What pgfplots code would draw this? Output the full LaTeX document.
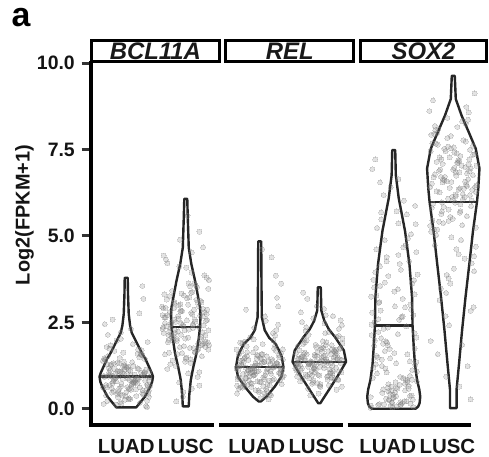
\documentclass[border=0pt]{standalone}
\usepackage{fontspec}
\setmainfont{Liberation Sans}
\usepackage{pgfplots}
\pgfplotsset{compat=1.18}
\definecolor{ptcol}{HTML}{808080}
\definecolor{vcol}{HTML}{262626}
\definecolor{tickcol}{HTML}{333333}
\pgfplotsset{
 panel/.style={
  scale only axis, width=131bp, height=363bp,
  xmin=0.4, xmax=2.6, ymin=-0.47, ymax=10.03,
  axis line style={draw=none},
  xtick style={draw=none},
  tick pos=left,
  tick label style={font=\bfseries\fontsize{20.5}{22}\selectfont, text=black!92},
  xticklabel style={anchor=north, inner sep=0pt, yshift=-14bp},
 },
 pts/.style={only marks, mark=*, mark size=2.5bp, color=ptcol, mark options={ptcol, line width=0pt, opacity=0.22}},
 vio/.style={draw=vcol, line width=2.4bp, line join=round, fill=none, mark=none},
}
\begin{document}
\begin{tikzpicture}
% ---------------- Panel 1: BCL11A ----------------
\begin{axis}[panel, at={(90.5bp,32bp)}, anchor=south west,
  xtick={1,2}, xticklabels={LUAD,LUSC},
  xticklabel style={yshift=9bp},
  ytick={0,2.5,5,7.5,10}, yticklabels={0.0,2.5,5.0,7.5,10.0},
  ytick style={draw=tickcol, line width=3bp}, major tick length=9bp, tick align=outside,
  yticklabel style={anchor=east, inner sep=0pt, xshift=-6.5bp, font=\bfseries\fontsize{19.5}{21}\selectfont}]
\addplot[pts] coordinates {
(0.63,0.92)(1.27,0.45)(0.88,1.31)(1.11,0.78)(0.71,1.05)(1.35,0.23)(0.95,1.62)(1.02,0.88)(0.79,0.51)(1.19,1.17)
(0.66,0.69)(1.31,1.44)(0.92,0.15)(1.08,0.97)(0.74,1.83)(1.23,0.62)(0.85,1.09)(1.38,0.34)(0.97,1.26)(1.15,0.81)
(0.69,2.14)(1.04,0.57)(0.82,1.02)(1.29,0.41)(0.61,1.38)(1.12,0.73)(0.90,0.19)(1.25,1.56)(0.77,0.95)(1.36,0.66)
(0.99,1.21)(1.07,0.28)(0.72,1.74)(1.20,0.86)(0.87,0.49)(1.33,1.13)(0.64,2.45)(1.16,0.77)(0.94,0.38)(1.01,1.01)
(0.76,0.59)(1.22,1.49)(0.83,0.12)(1.39,0.91)(0.68,1.28)(1.10,0.71)(0.91,2.02)(1.28,0.53)(0.80,1.16)(1.05,0.84)
(1.05,0.31)(0.80,1.67)(1.28,0.99)(0.91,0.64)(1.10,1.35)(0.68,0.22)(1.39,1.07)(0.83,0.79)(1.22,2.76)(0.76,0.47)
(1.01,1.19)(0.94,0.87)(1.16,0.56)(0.64,1.42)(1.33,0.08)(0.87,0.94)(1.20,1.71)(0.72,0.68)(1.07,1.11)(0.99,0.36)
(1.36,1.93)(0.77,0.74)(1.25,1.04)(0.90,0.43)(1.12,1.24)(0.61,0.61)(1.29,3.18)(0.82,0.89)(1.04,0.27)(0.69,1.52)
(1.15,0.82)(0.97,1.14)(1.38,0.52)(0.85,1.33)(1.23,0.17)(0.74,0.96)(1.08,2.31)(0.92,0.72)(1.31,1.06)(0.66,0.39)
(1.19,1.59)(0.79,0.83)(1.02,0.63)(0.95,1.22)(1.35,0.05)(0.71,0.98)(1.11,1.87)(0.88,0.58)(1.27,3.55)(0.63,1.46)
(1.18,0.87)(0.73,1.12)(1.34,0.54)(0.96,1.36)(1.09,0.71)(0.62,0.95)(1.24,1.58)(0.86,0.33)(1.30,1.04)(0.78,0.79)
(1.03,1.22)(0.67,0.62)(1.14,0.99)(0.89,1.47)(1.37,0.44)(0.81,0.88)(1.21,1.15)(0.98,0.26)(1.26,1.69)(0.70,0.93)
(1.06,0.58)(0.75,1.29)(1.32,0.81)(0.93,1.05)(1.17,0.37)(0.65,1.41)(1.13,0.76)(0.84,1.97)(1.40,0.66)(0.88,1.09)
(1.00,0.48)(0.71,1.18)(1.23,0.91)(0.91,2.21)(1.35,0.69)(0.79,1.32)(1.11,0.85)(0.62,0.14)(1.27,1.55)(0.96,1.01)
(1.19,0.73)(0.74,1.26)(1.08,0.55)(0.67,1.79)(1.31,0.97)(0.85,0.42)(1.04,1.13)(0.77,2.58)(1.38,0.82)(0.90,1.07)
};
\addplot[pts] coordinates {
(2.12,2.41)(1.90,1.78)(2.25,3.12)(1.77,2.05)(2.36,2.87)(1.99,1.36)(2.07,3.54)(1.72,2.23)(2.20,0.92)(1.87,2.68)
(2.33,1.95)(1.64,3.31)(2.16,2.52)(1.94,1.61)(2.01,4.08)(1.76,2.15)(2.22,2.96)(1.83,1.24)(2.39,3.72)(1.68,2.38)
(2.10,0.58)(1.91,2.81)(2.28,1.87)(1.80,3.05)(2.05,2.29)(1.63,4.43)(2.27,1.52)(1.88,2.61)(2.11,3.38)(1.71,1.99)
(2.35,2.74)(1.95,0.35)(2.02,3.19)(1.79,2.11)(2.19,1.69)(1.66,2.92)(2.31,3.86)(1.92,2.47)(2.08,1.43)(1.74,2.33)
(2.23,5.12)(1.85,2.02)(2.38,3.47)(1.97,1.81)(2.15,2.58)(1.69,1.15)(2.04,3.01)(1.82,2.19)(2.29,4.67)(1.61,2.71)
(2.37,1.91)(1.73,3.26)(2.12,2.44)(1.89,0.76)(2.29,2.89)(1.65,1.57)(2.05,3.63)(1.98,2.27)(2.21,1.73)(1.81,3.09)
(2.34,2.55)(1.69,4.21)(2.08,1.33)(1.92,2.84)(2.26,2.08)(1.77,3.41)(2.15,1.64)(1.62,2.36)(2.03,5.58)(1.85,1.96)
(2.31,2.79)(1.96,0.48)(2.18,3.15)(1.71,2.13)(2.39,1.84)(1.88,2.99)(2.10,3.94)(1.75,2.49)(2.23,1.06)(1.64,2.64)
(2.01,1.48)(1.93,3.33)(2.28,2.21)(1.80,2.91)(2.13,1.76)(1.67,4.31)(2.36,2.57)(1.84,0.21)(2.06,3.22)(1.99,2.03)
(2.24,2.69)(1.78,1.39)(2.17,3.57)(1.61,2.31)(2.32,1.89)(1.90,4.89)(2.09,2.77)(1.72,1.62)(2.20,3.08)(1.95,2.43)
(1.82,2.28)(2.27,1.83)(1.66,2.64)(2.04,2.06)(1.91,3.02)(2.38,1.71)(1.76,2.45)(2.14,2.87)(1.70,1.92)(2.22,2.36)
(1.97,3.28)(2.33,2.12)(1.86,1.58)(2.11,2.73)(1.63,2.19)(2.19,3.51)(1.79,1.97)(2.02,2.56)(1.74,1.29)(2.30,2.41)
(1.94,2.83)(2.25,2.02)(1.68,3.16)(2.07,1.76)(1.83,2.51)(2.35,3.79)(1.87,2.24)(2.16,1.64)(1.60,2.95)(2.12,2.33)
(2.00,1.45)(2.29,2.67)(1.77,2.09)(2.09,3.36)(1.65,2.48)(2.21,1.88)(1.89,4.12)(2.38,2.27)(1.73,2.79)(2.04,1.02)
(1.81,2.58)(2.26,3.08)(1.92,2.14)(2.33,1.79)(1.69,2.71)(2.15,3.62)(1.96,2.38)(2.23,0.67)(1.62,2.91)(2.10,4.52)
};
\addplot[vio] coordinates {
(1.168,0.04)(1.314,0.35)(1.403,0.64)(1.435,0.78)(1.449,0.93)(1.425,1.05)(1.370,1.26)(1.320,1.45)(1.266,1.60)(1.185,1.88)(1.150,2.00)(1.092,2.20)(1.065,2.40)(1.042,2.74)(1.030,3.30)(1.025,3.79)
(0.975,3.79)(0.970,3.30)(0.958,2.74)(0.935,2.40)(0.908,2.20)(0.850,2.00)(0.815,1.88)(0.734,1.60)(0.680,1.45)(0.630,1.26)(0.575,1.05)(0.551,0.93)(0.565,0.78)(0.597,0.64)(0.686,0.35)(0.832,0.04)
} -- cycle;
\addplot[vio] coordinates {(0.551,0.93)(1.449,0.93)};
\addplot[vio] coordinates {
(2.050,0.07)(2.059,0.40)(2.084,0.83)(2.126,1.20)(2.180,1.60)(2.215,2.00)(2.240,2.36)(2.247,2.70)(2.240,2.93)(2.200,3.30)(2.156,3.70)(2.092,4.20)(2.050,4.66)(2.034,5.50)(2.025,6.07)
(1.975,6.07)(1.966,5.50)(1.950,4.66)(1.908,4.20)(1.844,3.70)(1.800,3.30)(1.760,2.93)(1.753,2.70)(1.760,2.36)(1.785,2.00)(1.820,1.60)(1.874,1.20)(1.916,0.83)(1.941,0.40)(1.950,0.07)
} -- cycle;
\addplot[vio] coordinates {(1.760,2.36)(2.240,2.36)};
\end{axis}
% ---------------- Panel 2: REL ----------------
\begin{axis}[panel, at={(224bp,32bp)}, anchor=south west,
  xtick={0.95,1.95}, xticklabels={LUAD,LUSC}, ytick=\empty]
\addplot[pts] coordinates {
(1.37,1.18)(0.73,0.74)(1.12,1.52)(0.89,0.96)(1.29,1.33)(0.65,0.58)(1.05,1.87)(0.98,1.09)(1.21,0.83)(0.81,1.41)
(1.34,1.02)(0.69,1.66)(1.08,0.45)(0.92,1.25)(1.26,2.12)(0.77,0.89)(1.15,1.37)(0.62,0.67)(1.03,1.58)(0.85,1.14)
(1.31,2.43)(0.96,0.79)(1.18,1.29)(0.71,0.61)(1.39,1.72)(0.88,1.05)(1.10,0.36)(0.75,1.94)(1.23,1.21)(0.64,0.92)
(1.01,1.47)(0.93,0.54)(1.28,2.28)(0.80,1.11)(1.13,0.71)(0.67,1.39)(1.36,3.62)(0.84,1.03)(1.06,0.65)(0.99,1.26)
(1.24,0.86)(0.78,1.81)(1.17,0.42)(0.61,1.16)(1.32,1.55)(0.90,0.97)(1.09,2.67)(0.72,0.77)(1.20,1.44)(0.95,1.08)
(1.12,0.52)(0.90,2.01)(1.25,1.23)(0.77,0.88)(1.36,1.61)(0.99,0.48)(1.07,1.35)(0.72,1.01)(1.20,4.38)(0.87,0.73)
(1.33,1.49)(0.64,1.12)(1.16,0.81)(0.94,1.76)(1.01,0.31)(0.76,1.19)(1.22,2.19)(0.83,0.94)(1.39,1.42)(0.68,0.63)
(1.10,2.54)(0.91,1.06)(1.28,1.31)(0.80,0.69)(1.05,1.57)(0.63,0.85)(1.27,3.85)(0.88,1.17)(1.11,0.57)(0.71,1.89)
(1.35,1.13)(0.95,1.45)(1.02,0.78)(0.79,1.64)(1.19,0.39)(0.66,1.24)(1.31,2.96)(0.92,0.99)(1.08,1.36)(0.74,0.66)
(1.23,1.98)(0.85,1.15)(1.38,0.91)(0.97,1.53)(1.15,0.27)(0.69,1.28)(1.04,4.61)(0.82,0.82)(1.29,3.21)(0.61,1.71)
(1.18,1.08)(0.73,1.35)(1.34,0.82)(0.96,1.56)(1.09,0.97)(0.62,1.21)(1.24,1.74)(0.86,0.63)(1.30,1.29)(0.78,1.02)
(1.03,1.43)(0.67,0.88)(1.14,1.17)(0.89,1.63)(1.37,0.71)(0.81,1.11)(1.21,1.38)(0.98,0.53)(1.26,1.84)(0.70,1.25)
(1.06,0.91)(0.75,1.49)(1.32,1.04)(0.93,1.31)(1.17,0.68)(0.65,1.58)(1.13,1.14)(0.84,2.07)(1.40,0.95)(0.88,1.22)
(1.00,0.77)(0.71,1.41)(1.23,1.19)(0.91,2.34)(1.35,0.99)(0.79,1.52)(1.11,1.06)(0.62,0.44)(1.27,1.68)(0.96,1.27)
(1.19,1.01)(0.74,1.46)(1.08,0.85)(0.67,1.91)(1.31,1.23)(0.85,0.74)(1.04,1.33)(0.77,2.87)(1.38,1.12)(0.90,1.16)
};
\addplot[pts] coordinates {
(2.05,1.38)(1.80,0.95)(2.28,1.71)(1.91,1.16)(2.10,1.54)(1.68,0.79)(2.39,2.03)(1.83,1.29)(2.22,1.02)(1.76,1.62)
(2.01,1.22)(1.94,1.85)(2.16,0.68)(1.64,1.45)(2.33,2.31)(1.87,1.09)(2.20,1.57)(1.72,0.87)(2.07,1.76)(1.99,1.33)
(2.36,2.56)(1.77,0.99)(2.25,1.49)(1.90,0.82)(2.12,1.92)(1.61,1.25)(2.29,0.55)(1.82,2.14)(2.04,1.41)(1.69,1.12)
(2.15,1.67)(1.97,0.74)(2.38,2.42)(1.85,1.31)(2.23,0.91)(1.74,1.59)(2.08,2.89)(1.92,1.21)(2.31,0.85)(1.66,1.46)
(2.19,1.06)(1.79,1.98)(2.02,0.63)(1.95,1.36)(2.35,1.74)(1.71,1.17)(2.11,2.71)(1.88,0.97)(2.27,1.64)(1.63,1.28)
(1.88,0.72)(2.10,2.19)(1.75,1.43)(2.23,1.08)(1.64,1.81)(2.01,0.66)(1.93,1.52)(2.28,1.19)(1.80,3.18)(2.13,0.93)
(1.67,1.69)(2.36,1.32)(1.84,1.01)(2.06,1.95)(1.99,0.44)(2.24,1.39)(1.78,2.36)(2.17,1.14)(1.61,1.61)(2.32,0.83)
(1.90,2.62)(2.09,1.26)(1.72,1.51)(2.20,0.89)(1.95,1.78)(2.37,1.05)(1.73,3.36)(2.12,1.37)(1.89,0.77)(2.29,2.08)
(1.65,1.33)(2.05,1.65)(1.98,0.98)(2.21,1.84)(1.81,0.58)(2.34,1.44)(1.69,2.79)(2.08,1.18)(1.92,1.56)(2.26,0.86)
(1.77,2.25)(2.15,1.35)(1.62,1.11)(2.03,1.73)(1.85,0.39)(2.31,1.48)(1.96,2.97)(2.18,1.03)(1.71,2.51)(2.39,1.89)
(1.82,1.29)(2.27,1.55)(1.66,1.02)(2.04,1.78)(1.91,1.18)(2.38,1.41)(1.76,1.92)(2.14,0.84)(1.70,1.49)(2.22,1.23)
(1.97,1.63)(2.33,1.08)(1.86,1.37)(2.11,1.84)(1.63,0.93)(2.19,1.31)(1.79,1.58)(2.02,0.71)(1.74,2.01)(2.30,1.44)
(1.94,1.13)(2.25,1.69)(1.68,1.26)(2.07,1.52)(1.83,0.88)(2.35,1.76)(1.87,1.34)(2.16,2.22)(1.60,1.16)(2.12,1.43)
(2.00,0.96)(2.29,1.61)(1.77,1.39)(2.09,2.47)(1.65,1.21)(2.21,1.72)(1.89,1.27)(2.38,0.64)(1.73,1.87)(2.04,1.48)
(1.81,1.22)(2.26,1.66)(1.92,1.05)(2.33,2.11)(1.69,1.45)(2.15,0.95)(1.96,1.53)(2.23,2.68)(1.62,1.33)(2.10,1.36)
};
\addplot[vio] coordinates {
(1.017,0.21)(1.113,0.35)(1.252,0.64)(1.365,0.93)(1.398,1.21)(1.370,1.50)(1.320,1.70)(1.266,1.88)(1.160,2.05)(1.084,2.27)(1.035,2.65)(1.030,3.50)(1.025,4.84)
(0.975,4.84)(0.970,3.50)(0.965,2.65)(0.916,2.27)(0.840,2.05)(0.734,1.88)(0.680,1.70)(0.630,1.50)(0.602,1.21)(0.635,0.93)(0.748,0.64)(0.887,0.35)(0.983,0.21)
} -- cycle;
\addplot[vio] coordinates {(0.602,1.21)(1.398,1.21)};
\addplot[vio] coordinates {
(2.017,0.16)(2.197,0.64)(2.336,1.02)(2.450,1.36)(2.412,1.69)(2.266,2.07)(2.160,2.30)(2.084,2.55)(2.035,2.84)(2.025,3.51)
(1.975,3.51)(1.965,2.84)(1.916,2.55)(1.840,2.30)(1.734,2.07)(1.588,1.69)(1.550,1.36)(1.664,1.02)(1.803,0.64)(1.983,0.16)
} -- cycle;
\addplot[vio] coordinates {(1.550,1.36)(2.450,1.36)};
\end{axis}
% ---------------- Panel 3: SOX2 ----------------
\begin{axis}[panel, at={(358bp,32bp)}, anchor=south west,
  xtick={0.9,1.9}, xticklabels={LUAD,LUSC}, ytick=\empty]
\addplot[pts] coordinates {
(1.12,0.12)(0.90,2.35)(1.25,0.58)(0.77,4.12)(1.36,1.27)(0.99,0.31)(1.07,3.46)(0.72,5.23)(1.20,0.84)(0.87,1.95)
(1.33,0.05)(0.64,2.78)(1.16,4.67)(0.94,0.43)(1.01,1.61)(0.76,3.09)(1.22,0.22)(0.83,6.18)(1.39,1.08)(0.68,2.51)
(1.10,0.69)(0.91,3.84)(1.28,0.15)(0.80,1.42)(1.05,5.71)(0.63,2.13)(1.27,0.37)(0.88,4.39)(1.11,0.92)(0.71,3.27)
(1.35,1.74)(0.95,0.08)(1.02,2.96)(0.79,5.48)(1.19,0.53)(0.66,1.19)(1.31,3.62)(0.92,0.27)(1.08,6.64)(0.74,2.22)
(1.23,0.76)(0.85,4.88)(1.38,1.35)(0.97,0.18)(1.15,2.67)(0.69,3.95)(1.04,0.61)(0.82,1.88)(1.29,5.05)(0.61,0.34)
(0.63,2.43)(1.27,0.95)(0.88,4.26)(1.11,0.11)(0.71,1.53)(1.35,3.31)(0.95,6.41)(1.02,0.47)(0.79,2.04)(1.19,0.72)
(0.66,3.73)(1.31,1.12)(0.92,0.25)(1.08,5.36)(0.74,2.59)(1.23,0.83)(0.85,1.67)(1.38,4.53)(0.97,0.19)(1.15,3.18)
(0.69,7.21)(1.04,1.31)(0.82,0.56)(1.29,2.87)(0.61,0.03)(1.12,4.02)(0.90,1.83)(1.25,0.66)(0.77,3.55)(1.36,5.87)
(0.99,0.41)(1.07,2.16)(0.72,1.02)(1.20,4.74)(0.87,0.29)(1.33,2.71)(0.64,6.93)(1.16,0.88)(0.94,1.46)(1.01,3.39)
(0.76,0.14)(1.22,5.62)(0.83,2.31)(1.39,0.79)(0.68,1.97)(1.10,4.19)(0.91,0.51)(1.28,3.01)(0.80,1.24)(1.05,0.07)
(1.18,0.21)(0.73,1.48)(1.34,3.72)(0.96,0.64)(1.09,2.57)(0.62,0.09)(1.24,4.93)(0.86,1.16)(1.30,0.38)(0.78,2.84)
(1.03,0.77)(0.67,3.51)(1.14,0.16)(0.89,1.91)(1.37,5.34)(0.81,0.46)(1.21,2.38)(0.98,0.04)(1.26,4.27)(0.70,1.29)
(1.06,0.58)(0.75,3.06)(1.32,0.26)(0.93,1.73)(1.17,6.02)(0.65,0.89)(1.13,2.64)(0.84,0.13)(1.40,3.88)(0.88,1.05)
(1.00,0.33)(0.71,4.61)(1.23,1.57)(0.91,0.71)(1.35,2.19)(0.79,5.68)(1.11,0.19)(0.62,3.24)(1.27,1.37)(0.96,0.52)
(1.19,2.93)(0.74,0.11)(1.08,4.45)(0.67,1.82)(1.31,0.84)(0.85,3.65)(1.04,0.36)(0.77,6.55)(1.38,2.06)(0.90,0.61)
};
\addplot[pts] coordinates {
(2.37,6.42)(1.73,5.18)(2.12,7.31)(1.89,3.87)(2.29,6.95)(1.65,7.68)(2.05,4.62)(1.98,6.13)(2.21,8.24)(1.81,5.71)
(2.34,2.94)(1.69,6.78)(2.08,7.12)(1.92,5.43)(2.26,8.57)(1.77,6.26)(2.15,1.85)(1.62,7.45)(2.03,5.96)(1.85,6.61)
(2.31,4.21)(1.96,7.89)(2.18,6.37)(1.71,5.02)(2.39,7.03)(1.88,3.35)(2.10,6.84)(1.75,8.09)(2.23,5.57)(1.64,6.51)
(2.01,7.56)(1.93,2.41)(2.28,6.18)(1.80,7.22)(2.13,4.88)(1.67,6.69)(2.36,9.12)(1.84,5.84)(2.06,7.39)(1.99,6.04)
(2.24,1.23)(1.78,6.92)(2.17,7.77)(1.61,5.29)(2.32,6.33)(1.90,8.41)(2.09,4.47)(1.72,7.14)(2.20,6.57)(1.95,3.62)
(2.05,6.74)(1.80,5.63)(2.28,7.49)(1.91,6.08)(2.10,0.64)(1.68,7.95)(2.39,6.46)(1.83,5.37)(2.22,8.73)(1.76,6.88)
(2.01,4.05)(1.94,7.27)(2.16,6.21)(1.64,5.81)(2.33,7.61)(1.87,2.68)(2.20,6.99)(1.72,6.29)(2.07,8.15)(1.99,5.49)
(2.36,7.36)(1.77,3.14)(2.25,6.64)(1.90,7.83)(2.12,5.91)(1.61,6.41)(2.29,0.27)(1.82,7.08)(2.04,6.15)(1.69,4.73)
(2.15,8.31)(1.97,6.56)(2.38,5.24)(1.85,7.52)(2.23,6.81)(1.74,1.58)(2.08,7.19)(1.92,5.76)(2.31,6.02)(1.66,8.92)
(2.19,4.34)(1.79,6.71)(2.02,7.41)(1.95,5.55)(2.35,3.98)(1.71,7.67)(2.11,6.38)(1.88,0.93)(2.27,6.87)(1.63,5.12)
(1.82,6.55)(2.27,7.21)(1.66,5.93)(2.04,6.84)(1.91,7.58)(2.38,6.27)(1.76,5.41)(2.14,7.03)(1.70,8.06)(2.22,6.48)
(1.97,4.96)(2.33,7.35)(1.86,6.71)(2.11,5.67)(1.63,7.92)(2.19,6.12)(1.79,3.48)(2.02,6.97)(1.74,7.64)(2.30,5.86)
(1.94,6.39)(2.25,8.36)(1.68,5.18)(2.07,7.11)(1.83,6.63)(2.35,4.41)(1.87,7.45)(2.16,6.05)(1.60,8.61)(2.12,5.72)
(2.00,6.91)(2.29,2.83)(1.77,7.27)(2.09,6.34)(1.65,5.45)(2.21,7.73)(1.89,6.58)(2.38,4.69)(1.73,7.98)(2.04,6.19)
(1.81,5.97)(2.26,7.06)(1.92,3.77)(2.33,6.76)(1.69,8.18)(2.15,5.31)(1.96,7.53)(2.23,6.44)(1.62,1.96)(2.10,7.16)
};
\addplot[vio] coordinates {
(1.365,0.00)(1.410,0.06)(1.434,0.16)(1.445,0.35)(1.430,0.55)(1.392,0.83)(1.355,1.30)(1.336,1.79)(1.316,2.41)(1.308,3.22)(1.264,4.18)(1.190,5.14)(1.084,6.09)(1.035,6.76)(1.025,7.48)
(0.975,7.48)(0.965,6.76)(0.916,6.09)(0.810,5.14)(0.736,4.18)(0.692,3.22)(0.684,2.41)(0.664,1.79)(0.645,1.30)(0.608,0.83)(0.570,0.55)(0.555,0.35)(0.566,0.16)(0.590,0.06)(0.635,0.00)
} -- cycle;
\addplot[vio] coordinates {(0.684,2.41)(1.316,2.41)};
\addplot[vio] coordinates {
(2.055,0.02)(2.055,0.55)(2.097,1.31)(2.148,2.27)(2.205,3.22)(2.269,4.18)(2.331,5.14)(2.398,5.98)(2.420,6.38)(2.440,6.95)(2.378,7.52)(2.260,8.00)(2.140,8.48)(2.042,8.96)(2.025,9.63)
(1.975,9.63)(1.958,8.96)(1.860,8.48)(1.740,8.00)(1.622,7.52)(1.560,6.95)(1.580,6.38)(1.602,5.98)(1.669,5.14)(1.731,4.18)(1.795,3.22)(1.852,2.27)(1.903,1.31)(1.945,0.55)(1.945,0.02)
} -- cycle;
\addplot[vio] coordinates {(1.602,5.98)(2.398,5.98)};
\end{axis}
% ---------------- axis lines, strips, labels ----------------
\draw[line width=3.8bp, black] (90.7bp,30.1bp) -- (90.7bp,395.5bp);
\draw[line width=3.8bp, black] (88.8bp,32bp) -- (214.3bp,32bp);
\draw[line width=3.8bp, black] (219.3bp,32bp) -- (342.7bp,32bp);
\draw[line width=3.8bp, black] (347.7bp,32bp) -- (470.7bp,32bp);
\foreach \xa/\xb/\lab in {91.7/219.1/BCL11A, 225.7/353.7/REL, 360.7/486.3/SOX2}{
  \draw[line width=3.2bp, black, fill=white] (\xa bp,395.5bp) rectangle (\xb bp,416.5bp);
  \node[inner sep=0pt, font=\bfseries\itshape\fontsize{24}{26}\selectfont, text=black!90] at ({(\xa+\xb)/2*1bp},406bp) {\lab};
}
\node[anchor=base west, inner sep=0pt, font=\bfseries\fontsize{34}{36}\selectfont] at (11.5bp,430bp) {a};
\node[rotate=90, inner sep=0pt, font=\bfseries\fontsize{20}{22}\selectfont, text=black!92] at (24.5bp,242bp) {Log2(FPKM+1)};
\pgfresetboundingbox
\useasboundingbox (0bp,0bp) rectangle (489bp,457bp);
\end{tikzpicture}
\end{document}
